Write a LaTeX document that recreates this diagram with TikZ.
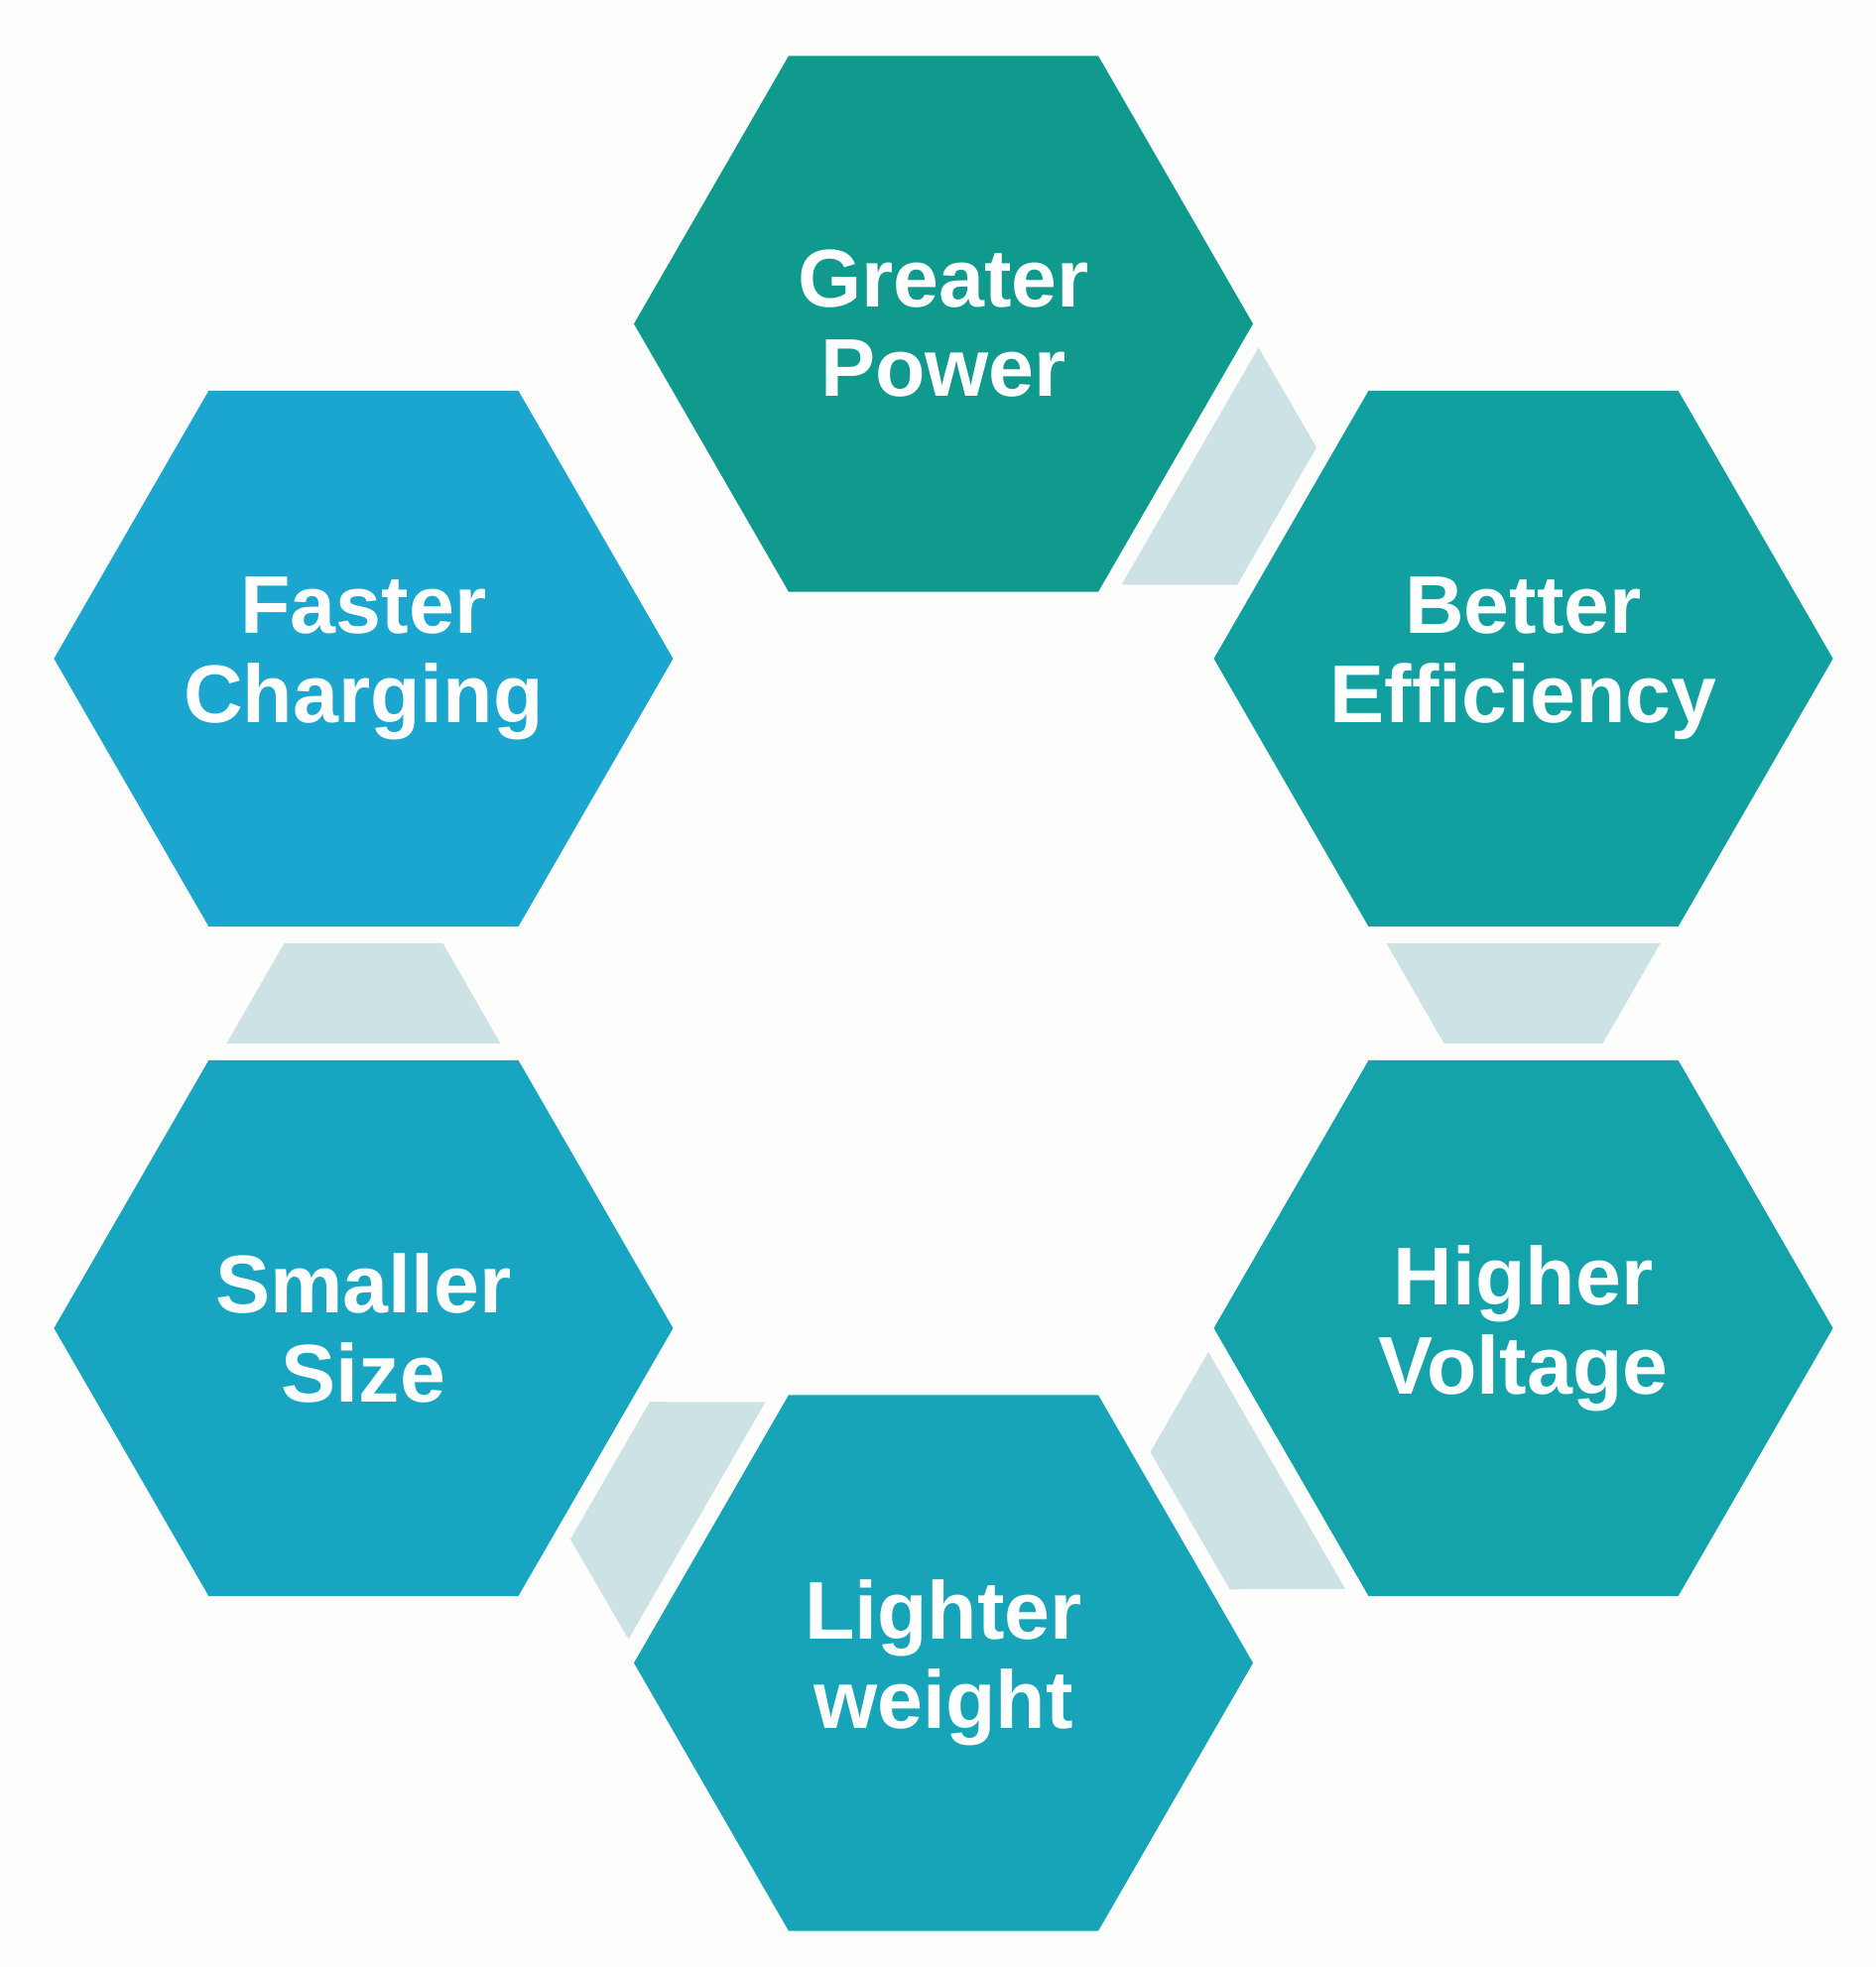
\documentclass[tikz,border=0pt]{standalone}
\usepackage{fontspec}
\setmainfont{Liberation Sans}
\usetikzlibrary{shapes.geometric,calc,positioning}

\definecolor{paper}{HTML}{FDFDFC}
\definecolor{tealA}{HTML}{109A8E}
\definecolor{tealB}{HTML}{129FA0}
\definecolor{tealC}{HTML}{14A2AB}
\definecolor{tealD}{HTML}{17A4B8}
\definecolor{tealE}{HTML}{18A5C2}
\definecolor{tealF}{HTML}{1AA6CE}
\definecolor{linkgray}{HTML}{CCE2E4}

\tikzset{
  hexa/.style={regular polygon, regular polygon sides=6, minimum size=6.24cm,
    inner sep=0pt, outer sep=0pt},
  hextext/.style={text=white, align=center, inner sep=0pt,
    font=\fontsize{23.5}{25.6}\selectfont\bfseries},
  link/.style={fill=linkgray}
}

\begin{document}
\begin{tikzpicture}
    % FULL
    \useasboundingbox[fill=paper] (0,0) rectangle (18.9,19.83);
    \coordinate (ring) at (9.51,9.815);

    % HEXAGONS
    \node[hexa, fill=tealA] (power)  at ($(ring)+(90:6.75)$)  {};
    \node[hexa, fill=tealB] (effic)  at ($(ring)+(30:6.75)$)  {};
    \node[hexa, fill=tealC] (volt)   at ($(ring)+(-30:6.75)$) {};
    \node[hexa, fill=tealD] (light)  at ($(ring)+(-90:6.75)$) {};
    \node[hexa, fill=tealE] (small)  at ($(ring)+(-150:6.75)$) {};
    \node[hexa, fill=tealF] (charge) at ($(ring)+(150:6.75)$) {};

    % TEXTS
    \node[hextext] (powertxt)  at (power.center)  {Greater\\Power};
    \node[hextext] (effictxt)  at (effic.center)  {Better\\Efficiency};
    \node[hextext] (volttxt)   at (volt.center)   {Higher\\Voltage};
    \node[hextext] (lighttxt)  at (light.center)  {Lighter\\weight};
    \node[hextext] (smalltxt)  at (small.center)  {Smaller\\Size};
    \node[hextext] (chargetxt) at (charge.center) {Faster\\Charging};

    % LINKS (wide side at the first hexagon)
    \foreach \s/\t in {power/effic, effic/volt, volt/light, light/small, small/charge} {
        \fill[link] ($(\s.center)!2.87cm!(\t.center)!1.38cm!90:(\t.center)$)
            -- ($(\s.center)!3.88cm!(\t.center)!0.80cm!90:(\t.center)$)
            -- ($(\s.center)!3.88cm!(\t.center)!0.80cm!-90:(\t.center)$)
            -- ($(\s.center)!2.87cm!(\t.center)!1.38cm!-90:(\t.center)$) -- cycle;
    }
\end{tikzpicture}
\end{document}
